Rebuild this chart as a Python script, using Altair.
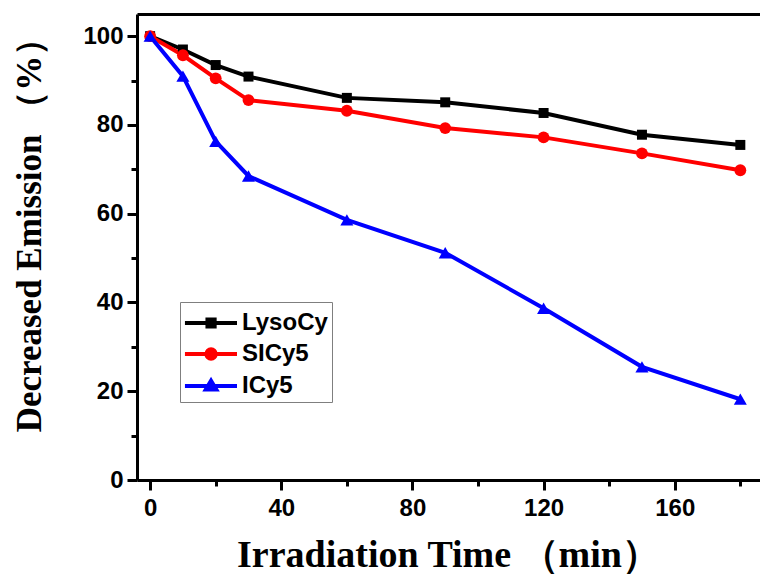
import altair as alt
import pandas as pd

time_min = [0, 10, 20, 30, 60, 90, 120, 150, 180]
lysocy = [100, 97.0, 93.5, 90.9, 86.1, 85.1, 82.7, 77.8, 75.5]
sicy5 = [100, 95.7, 90.5, 85.6, 83.2, 79.3, 77.2, 73.6, 69.8]
icy5 = [100, 91.0, 76.3, 68.5, 58.6, 51.2, 38.7, 25.5, 18.2]

series_names = ["LysoCy", "SICy5", "ICy5"]
colors = ["#000000", "#FF0000", "#0000FF"]
shapes = ["square", "circle", "triangle-up"]
sizes = [100, 140, 170]
# legend symbols: a line with the series marker in its middle
legend_paths = [
    "M-1.07,0H2.4M0.43,-0.24H0.91V0.24H0.43Z",
    "M-1.07,0H2.4M0.98,0A0.31,0.31 0 1,1 0.36,0A0.31,0.31 0 1,1 0.98,0Z",
    "M-1.07,0H2.4M0.67,-0.35L1.02,0.24H0.32Z",
]

x_major_vals = [0, 40, 80, 120, 160]
x_minor_vals = [20, 60, 100, 140, 180]
y_major_vals = [0, 20, 40, 60, 80, 100]
y_minor_vals = [10, 30, 50, 70, 90]

rows = []
for name, vals in zip(series_names, [lysocy, sicy5, icy5]):
    for t, v in zip(time_min, vals):
        rows.append({"time": t, "value": v, "series": name})
df = pd.DataFrame(rows)

xscale = alt.Scale(domain=[-4, 186], nice=False, zero=False)
yscale = alt.Scale(domain=[0, 105], nice=False, zero=False)
cscale = alt.Scale(domain=series_names, range=colors)

label_font = "Liberation Sans"
title_font = "Liberation Serif"

x_major = alt.X("time:Q", scale=xscale, axis=alt.Axis(
    orient="bottom", values=x_major_vals, tickSize=10, tickWidth=3, tickColor="black",
    domainWidth=3, domainColor="black", grid=False,
    labelFont=label_font, labelFontSize=24, labelFontWeight="bold", labelColor="black",
    labelPadding=6,
    title="Irradiation Time （min）", titleFont=title_font, titleFontSize=38,
    titleFontWeight="bold", titleColor="black", titleX=311, titleY=86,
    titleAlign="center", titleBaseline="alphabetic"))
y_major = alt.Y("value:Q", scale=yscale, axis=alt.Axis(
    orient="left", values=y_major_vals, tickSize=10, tickWidth=3, tickColor="black",
    domainWidth=3, domainColor="black", grid=False,
    labelFont=label_font, labelFontSize=24, labelFontWeight="bold", labelColor="black",
    labelPadding=4,
    title="Decreased Emission （%）", titleFont=title_font, titleFontSize=35,
    titleFontWeight="bold", titleColor="black", titleX=-108, titleY=212,
    titleAngle=270, titleAlign="center", titleBaseline="middle"))

x_minor = alt.X("time:Q", scale=xscale, axis=alt.Axis(
    orient="bottom", values=x_minor_vals, tickSize=6, tickWidth=3, tickColor="black",
    domain=False, labels=False, grid=False, title=None))
y_minor = alt.Y("value:Q", scale=yscale, axis=alt.Axis(
    orient="left", values=y_minor_vals, tickSize=6, tickWidth=3, tickColor="black",
    domain=False, labels=False, grid=False, title=None))

x_top = alt.X("time:Q", scale=xscale, axis=alt.Axis(
    orient="top", ticks=False, labels=False, grid=False, title=None,
    domainWidth=3, domainColor="black"))
x_none = alt.X("time:Q", scale=xscale, axis=None)
y_none = alt.Y("value:Q", scale=yscale, axis=None)

base = alt.Chart(df)

lines = base.mark_line(strokeWidth=4).encode(
    x=x_major, y=y_major,
    color=alt.Color("series:N", scale=cscale, legend=None),
    detail="series:N",
)

point_layers = []
for i, (name, col, shp, sz) in enumerate(zip(series_names, colors, shapes, sizes)):
    layer = base.transform_filter(alt.datum.series == name).mark_point(
        filled=True, opacity=1, color=col, shape=shp, size=sz
    ).encode(
        x=x_minor if i == 0 else x_none,
        y=y_minor if i == 0 else y_none,
    )
    point_layers.append(layer)

# legend-only layer (invisible marks); its scales carry the legend
legend_layer = base.mark_point(filled=True, opacity=0).encode(
    x=x_top, y=y_none,
    fill=alt.Fill("series:N", scale=alt.Scale(domain=series_names, range=colors), title=None),
    stroke=alt.Stroke("series:N", scale=alt.Scale(domain=series_names, range=colors), title=None),
    shape=alt.Shape("series:N", scale=alt.Scale(domain=series_names, range=legend_paths), title=None),
)

chart = alt.layer(lines, *point_layers, legend_layer).resolve_scale(
    fill="independent", stroke="independent", shape="independent"
).resolve_axis(
    x="independent", y="independent"
).properties(
    width=623, height=466,
    padding={"left": 137, "top": 14, "right": 0, "bottom": 96},
    autosize="none",
    background="white",
).configure_view(
    stroke=None
).configure_legend(
    orient="none", legendX=43, legendY=288,
    strokeColor="#7f7f7f", strokeWidth=1, padding=4,
    labelFont=label_font, labelFontSize=24, labelFontWeight="bold", labelColor="black",
    symbolSize=900, symbolStrokeWidth=4, symbolOpacity=1, rowPadding=2,
    labelOffset=24,
)

chart.save("out.html", embed_options={"renderer": "svg", "actions": False})
